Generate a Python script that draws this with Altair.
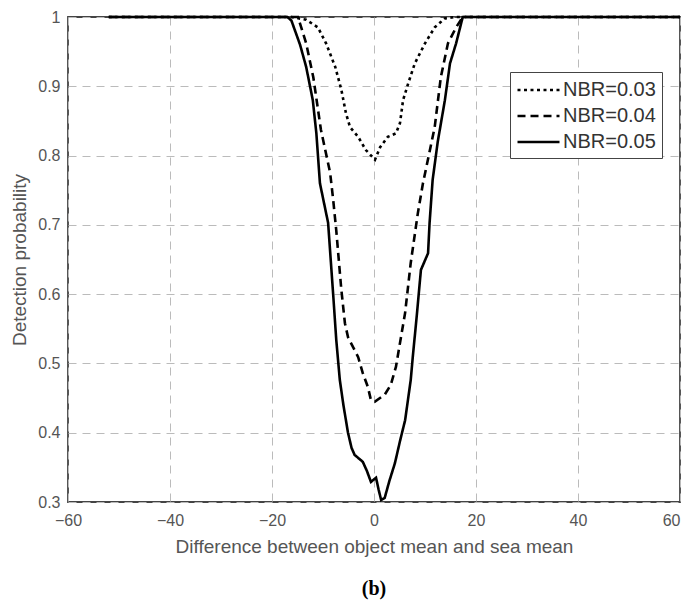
import altair as alt
import pandas as pd

# NBR = 0.03 (dotted)
x03 = [-52, -16.2, -13.3, -11.0, -9.4, -7.6, -6.4, -5.5, -4.7, -3.1, -1.6, 0.2, 1.2, 2.7, 4.3, 5.1, 5.7, 6.7, 8.0, 10.0, 11.9, 13.9, 15.9, 60]
y03 = [1.0, 1.0, 0.996, 0.985, 0.962, 0.928, 0.895, 0.861, 0.841, 0.827, 0.808, 0.794, 0.812, 0.827, 0.832, 0.847, 0.88, 0.904, 0.933, 0.962, 0.985, 0.998, 1.0, 1.0]

# NBR = 0.04 (dashed)
x04 = [-52, -14.9, -13.3, -11.9, -10.4, -8.6, -8.0, -7.4, -6.4, -5.7, -5.1, -3.1, -2.2, -1.2, -0.6, 0.2, 2.1, 3.3, 4.1, 4.3, 6.1, 7.2, 8.6, 9.6, 11.9, 13.1, 14.5, 16.1, 17.4, 60]
y04 = [1.0, 1.0, 0.962, 0.913, 0.837, 0.775, 0.736, 0.692, 0.606, 0.558, 0.538, 0.509, 0.486, 0.466, 0.447, 0.445, 0.455, 0.469, 0.49, 0.495, 0.573, 0.645, 0.717, 0.76, 0.841, 0.913, 0.962, 0.985, 1.0, 1.0]

# NBR = 0.05 (solid)
x05 = [-52, -17.0, -16.2, -14.5, -13.3, -12.0, -11.3, -10.6, -9.0, -8.0, -7.4, -6.7, -6.0, -5.1, -4.4, -3.8, -2.2, -1.4, -0.6, 0.4, 0.9, 1.4, 2.1, 3.0, 4.1, 5.1, 6.1, 7.2, 7.6, 8.4, 9.2, 10.6, 10.9, 11.5, 12.5, 13.9, 14.9, 16.1, 17.4, 60]
y05 = [1.0, 1.0, 0.995, 0.96, 0.928, 0.88, 0.832, 0.76, 0.703, 0.599, 0.534, 0.476, 0.44, 0.40, 0.378, 0.368, 0.358, 0.345, 0.329, 0.335, 0.318, 0.303, 0.306, 0.33, 0.356, 0.388, 0.418, 0.476, 0.509, 0.57, 0.635, 0.659, 0.703, 0.765, 0.82, 0.88, 0.933, 0.962, 1.0, 1.0]

series_names = ["NBR=0.03", "NBR=0.04", "NBR=0.05"]
x_ticks = [-60, -40, -20, 0, 20, 40, 60]
y_ticks = [0.3, 0.4, 0.5, 0.6, 0.7, 0.8, 0.9, 1.0]

rows = []
for name, xs, ys in zip(series_names, [x03, x04, x05], [y03, y04, y05]):
    for i, (a, b) in enumerate(zip(xs, ys)):
        rows.append({"series": name, "x": a, "y": b, "order": i})
df = pd.DataFrame(rows)

FONT = "Liberation Sans"

lines = alt.Chart(df).mark_line(color="black", strokeWidth=2.6).encode(
    x=alt.X("x:Q", scale=alt.Scale(domain=[-60, 60], nice=False),
            axis=alt.Axis(values=x_ticks, title="Difference between object mean and sea mean",
                          labelFlush=False,
                          labelAlign=alt.ExprRef("datum.value == 60 ? 'right' : 'center'"))),
    y=alt.Y("y:Q", scale=alt.Scale(domain=[0.3, 1.0], nice=False, zero=False),
            axis=alt.Axis(values=y_ticks, title="Detection probability",
                          labelExpr="datum.value == 1 ? '1' : format(datum.value, '.1f')")),
    strokeDash=alt.StrokeDash(
        "series:N",
        scale=alt.Scale(domain=series_names, range=[[3, 3.5], [8, 5], [1, 0]]),
        legend=alt.Legend(title=None, orient="none", legendX=442, legendY=55,
                          symbolType="M-1,0H3", symbolSize=441, symbolStrokeWidth=2.6,
                          symbolStrokeColor="black",
                          labelFontSize=20, labelFont=FONT, labelColor="#333",
                          labelOffset=23, rowPadding=4,
                          padding=6, strokeColor="#444", fillColor="white"),
    ),
    order="order:Q",
)

chart = lines.properties(
    width=612, height=485,
    autosize=alt.AutoSizeParams(type="none"),
    padding={"left": 60, "top": 9, "right": 1, "bottom": 100},
    title=alt.TitleParams("(b)", orient="bottom", font="Liberation Serif",
                          fontSize=20, fontWeight="bold", color="black", offset=23),
).configure_view(
    stroke="#444", strokeWidth=1.8
).configure_axis(
    grid=True, gridDash=[8, 6], gridColor="#bbbbbb", gridWidth=1,
    domain=False, ticks=False,
    labelFont=FONT, labelFontSize=16, labelColor="#555",
    titleFont=FONT, titleFontSize=19, titleColor="#555", titleFontWeight="normal",
).configure_axisX(labelPadding=10, titlePadding=9
).configure_axisY(labelPadding=8, titlePadding=8)

chart.save("out.html", embed_options={"renderer": "svg", "actions": False})
